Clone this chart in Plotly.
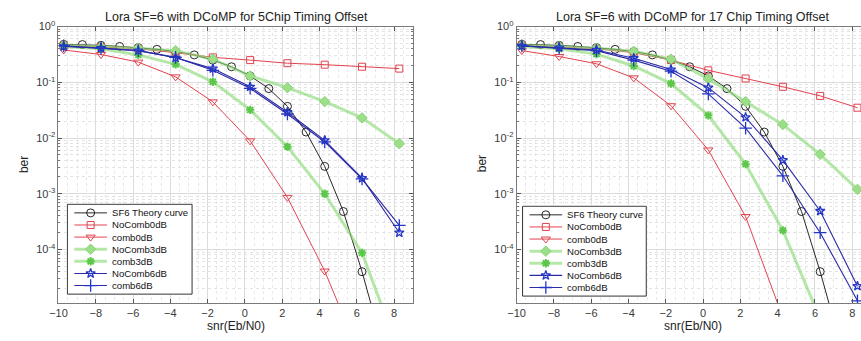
import math
import plotly.graph_objects as go

# ---------------- data ----------------
THEORY_SNR = [-9.72, -8.72, -7.72, -6.72, -5.72, -4.72, -3.72, -2.72, -1.72, -0.72,
              0.28, 1.28, 2.28, 3.28, 4.28, 5.28, 6.28, 7.28]
THEORY_BER = [0.48, 0.475, 0.46, 0.44, 0.42, 0.39, 0.355, 0.31, 0.25, 0.19,
              0.13, 0.077, 0.037, 0.0128, 0.0031, 4.8e-4, 4.0e-5, 2.5e-6]

SNR = [-9.72, -7.72, -5.72, -3.72, -1.72, 0.28, 2.28, 4.28, 6.28, 8.28]

# 5 chip timing offset
L_NOCOMB0 = [0.46, 0.43, 0.40, 0.34, 0.28, 0.25, 0.22, 0.207, 0.19, 0.176]
L_COMB0 = [0.38, 0.315, 0.23, 0.125, 0.0446, 0.0089, 8.6e-4, 4.1e-5, 1.0e-6]
L_NOCOMB3 = [0.46, 0.43, 0.41, 0.37, 0.26, 0.13, 0.08, 0.045, 0.023, 0.0079]
L_COMB3 = [0.44, 0.40, 0.31, 0.21, 0.102, 0.032, 0.0070, 1.0e-3, 8.7e-5, 1.4e-6]
L_NOCOMB6 = [0.44, 0.41, 0.37, 0.275, 0.176, 0.083, 0.029, 0.0091, 1.9e-3, 2.0e-4]
L_COMB6 = [0.45, 0.41, 0.37, 0.28, 0.164, 0.078, 0.027, 0.0085, 1.85e-3, 2.7e-4]

# 17 chip timing offset
R_NOCOMB0 = [0.46, 0.43, 0.40, 0.34, 0.25, 0.164, 0.117, 0.083, 0.057, 0.035]
R_COMB0 = [0.37, 0.29, 0.215, 0.12, 0.038, 0.0061, 3.9e-4, 6.0e-6]
R_NOCOMB3 = [0.46, 0.44, 0.41, 0.36, 0.26, 0.115, 0.045, 0.0174, 0.0051, 1.2e-3]
R_COMB3 = [0.44, 0.40, 0.32, 0.196, 0.095, 0.0255, 0.0034, 2.2e-4, 5.7e-6]
R_NOCOMB6 = [0.45, 0.42, 0.38, 0.27, 0.169, 0.08, 0.0235, 0.004, 4.9e-4, 2.2e-5]
R_COMB6 = [0.45, 0.41, 0.37, 0.25, 0.158, 0.062, 0.015, 2.1e-3, 2.0e-4, 1.2e-5]

NAMES = ["SF6 Theory curve", "NoComb0dB", "comb0dB", "NoComb3dB", "comb3dB", "NoComb6dB", "comb6dB"]
TITLES = ["Lora SF=6 with DCoMP for 5Chip Timing Offset",
          "Lora SF=6 with DCoMP for 17 Chip Timing Offset"]
X_LABEL = "snr(Eb/N0)"
Y_LABEL = "ber"
Y_TICKS = [1, 0.1, 0.01, 1e-3, 1e-4]
Y_TICKTEXT = ["10<sup>0</sup>", "10<sup>-1</sup>", "10<sup>-2</sup>", "10<sup>-3</sup>", "10<sup>-4</sup>"]
X_TICKS = [-10, -8, -6, -4, -2, 0, 2, 4, 6, 8]

# ---------------- styles ----------------
W, H = 861, 341
FONT = "Liberation Sans, Arial, sans-serif"
BLACK = "#111111"
RED = "#e2434f"
GREEN_LINE = "rgba(135,218,115,0.62)"
GREEN_MK = "#9ddf88"
GREEN_MK2 = "#5cc84a"
BLUE = "#2a2aa6"
BLUE_MK = "#2436c8"

STYLES = [
    dict(line=dict(color=BLACK, width=0.9),
         marker=dict(symbol="circle-open", size=8, color=BLACK, line=dict(width=0.9))),
    dict(line=dict(color=RED, width=1),
         marker=dict(symbol="square-open", size=7, color=RED, line=dict(width=1))),
    dict(line=dict(color=RED, width=1),
         marker=dict(symbol="triangle-down-open", size=8, color=RED, line=dict(width=1))),
    dict(line=dict(color=GREEN_LINE, width=3),
         marker=dict(symbol="diamond", size=8, color=GREEN_MK, line=dict(width=1, color="#86d474"))),
    dict(line=dict(color=GREEN_LINE, width=3),
         marker=dict(symbol="asterisk-open", size=7, color=GREEN_MK2, line=dict(width=2, color=GREEN_MK2))),
    dict(line=dict(color=BLUE, width=1.1),
         marker=dict(symbol="star-open", size=7, color=BLUE_MK, line=dict(width=1.3))),
    dict(line=dict(color=BLUE, width=1.1),
         marker=dict(symbol="cross-thin-open", size=9, color=BLUE_MK, line=dict(width=1.3))),
]

fig = go.Figure()

panels = [
    ("x", "y", [L_NOCOMB0, L_COMB0, L_NOCOMB3, L_COMB3, L_NOCOMB6, L_COMB6]),
    ("x2", "y2", [R_NOCOMB0, R_COMB0, R_NOCOMB3, R_COMB3, R_NOCOMB6, R_COMB6]),
]

for xa, ya, series in panels:
    fig.add_trace(go.Scatter(x=THEORY_SNR, y=THEORY_BER, mode="lines+markers", name=NAMES[0],
                             xaxis=xa, yaxis=ya, showlegend=False, **STYLES[0]))
    for i, vals in enumerate(series):
        fig.add_trace(go.Scatter(x=SNR[:len(vals)], y=vals, mode="lines+markers", name=NAMES[i + 1],
                                 xaxis=xa, yaxis=ya, showlegend=False, **STYLES[i + 1]))

# ---------------- compact legends (MATLAB-like) ----------------
# legend boxes in pixels: (left, top, right, bottom)
LEG_BOXES = [(59, 201, 185, 293), (519, 203, 644, 295)]
LEG_AXES = [("x3", "y3"), ("x4", "y4")]
ROW_H = 12.4
SAMPLE_X0, SAMPLE_X1, TEXT_X = 7, 40, 43

ann = []
for (l, t, r, b), (xa, ya) in zip(LEG_BOXES, LEG_AXES):
    bw, bh = r - l, b - t
    # frame
    fig.add_trace(go.Scatter(x=[0, bw, bw, 0, 0], y=[0, 0, bh, bh, 0], mode="lines",
                             fill="toself", fillcolor="white",
                             line=dict(color="#333333", width=1),
                             xaxis=xa, yaxis=ya, showlegend=False, hoverinfo="skip"))
    pad = (bh - ROW_H * len(NAMES)) / 2
    for i, (name, st) in enumerate(zip(NAMES, STYLES)):
        yc = pad + (i + 0.5) * ROW_H
        fig.add_trace(go.Scatter(x=[SAMPLE_X0, SAMPLE_X1], y=[yc, yc], mode="lines",
                                 line=st["line"], xaxis=xa, yaxis=ya,
                                 showlegend=False, hoverinfo="skip"))
        fig.add_trace(go.Scatter(x=[(SAMPLE_X0 + SAMPLE_X1) / 2], y=[yc], mode="markers",
                                 marker=st["marker"], xaxis=xa, yaxis=ya,
                                 showlegend=False, hoverinfo="skip", cliponaxis=False))
        ann.append(dict(text=name, x=TEXT_X, y=yc, xref=xa, yref=ya,
                        xanchor="left", yanchor="middle", showarrow=False,
                        font=dict(family=FONT, size=9.6, color="#111111")))

# plot area geometry (pixels)
LX0, LX1 = 50, 408
RX0, RX1 = 513, 861
PY0, PY1 = 19, 302
px_per_unit = (408 - 50) / 19.0
r_xmax = -10 + (RX1 - RX0) / px_per_unit

minor_y = [k * 10 ** e for e in range(-5, 0) for k in range(2, 10)]

def xaxis_cfg(d0, d1, rng, anchor):
    return dict(domain=[d0 / W, d1 / W], range=rng, anchor=anchor,
                tickmode="array", tickvals=X_TICKS,
                ticks="inside", ticklen=4, tickcolor="#555555",
                showline=True, linecolor="#7a7a7a", linewidth=1, mirror="ticks",
                showgrid=True, gridcolor="#dcdcdc", gridwidth=1,
                minor=dict(dtick=0.5, showgrid=True, gridcolor="#e8e8e8", griddash="dot", ticks=""),
                zeroline=False,
                tickfont=dict(family=FONT, size=11, color="#3a3a3a"))

def yaxis_cfg(anchor, mirror):
    return dict(domain=[1 - PY1 / H, 1 - PY0 / H], type="log",
                range=[math.log10(1.1e-5), 0], anchor=anchor,
                tickmode="array", tickvals=Y_TICKS, ticktext=Y_TICKTEXT,
                ticks="inside", ticklen=4, tickcolor="#555555",
                showline=True, linecolor="#7a7a7a", linewidth=1, mirror=mirror,
                showgrid=True, gridcolor="#dcdcdc", gridwidth=1,
                minor=dict(tickmode="array", tickvals=minor_y, showgrid=True,
                           gridcolor="#e3e3e3", griddash="dot", ticks="inside", ticklen=2,
                           tickcolor="#777777"),
                zeroline=False,
                tickfont=dict(family=FONT, size=11, color="#3a3a3a"))

def hidden_axes(box, xa, ya):
    l, t, r, b = box
    return (dict(domain=[(l - 1) / W, (r + 1) / W], range=[-1, r - l + 1], visible=False,
                 fixedrange=True, anchor=ya),
            dict(domain=[1 - (b + 1) / H, 1 - (t - 1) / H], range=[b - t + 1, -1], visible=False,
                 fixedrange=True, anchor=xa))

x3, y3 = hidden_axes(LEG_BOXES[0], "x3", "y3")
x4, y4 = hidden_axes(LEG_BOXES[1], "x4", "y4")

fig.update_layout(
    width=W, height=H, margin=dict(l=0, r=0, t=0, b=0),
    paper_bgcolor="white", plot_bgcolor="white",
    showlegend=False,
    xaxis=xaxis_cfg(LX0, LX1, [-10, 9], "y"),
    yaxis=yaxis_cfg("x", "ticks"),
    xaxis2=xaxis_cfg(RX0, RX1, [-10, r_xmax], "y2"),
    yaxis2=yaxis_cfg("x2", False),
    xaxis3=x3, yaxis3=y3, xaxis4=x4, yaxis4=y4,
)

for cx, t in zip([230, 691], TITLES):
    ann.append(dict(text=t, x=cx / W, y=1 - 9 / H, xref="paper", yref="paper",
                    xanchor="center", yanchor="middle", showarrow=False,
                    font=dict(family=FONT, size=12.5, color="#222222")))
for cx in [229, 691]:
    ann.append(dict(text=X_LABEL, x=cx / W, y=1 - 326 / H, xref="paper", yref="paper",
                    xanchor="center", yanchor="middle", showarrow=False,
                    font=dict(family=FONT, size=12, color="#222222")))
for cx in [15, 478]:
    ann.append(dict(text=Y_LABEL, x=cx / W, y=1 - 160 / H, xref="paper", yref="paper",
                    xanchor="center", yanchor="middle", showarrow=False, textangle=-90,
                    font=dict(family=FONT, size=12, color="#222222")))
fig.update_layout(annotations=ann)

fig.write_html("out.html")
